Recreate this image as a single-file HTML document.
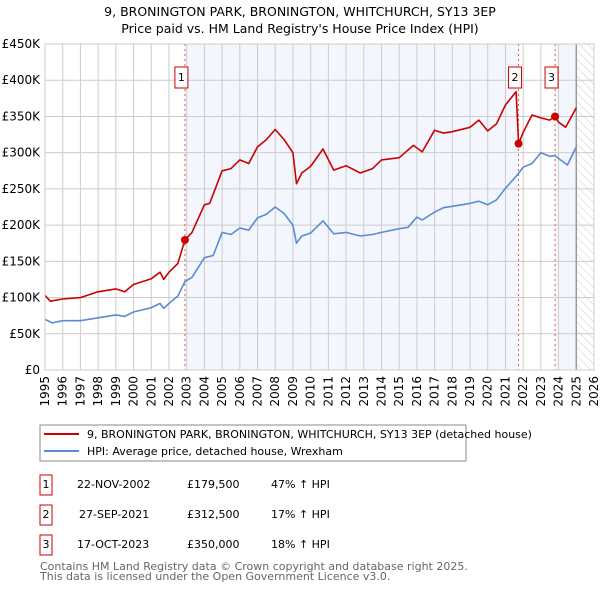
<!DOCTYPE html>
<html><head><meta charset="utf-8"><style>
body{margin:0;background:#fff;width:600px;height:590px;overflow:hidden;font-family:"DejaVu Sans","Liberation Sans",sans-serif}
svg text{font-family:"DejaVu Sans","Liberation Sans",sans-serif}
</style></head><body>
<svg id="c" width="600" height="590">
<defs><pattern id="hatch" width="6" height="6" patternUnits="userSpaceOnUse" patternTransform="rotate(-45)"><line x1="0" y1="0" x2="0" y2="6" stroke="#ccc" stroke-width="1"/></pattern></defs>
<text x="300" y="16" text-anchor="middle" font-size="12.5">9, BRONINGTON PARK, BRONINGTON, WHITCHURCH, SY13 3EP</text>
<text x="300" y="33" text-anchor="middle" font-size="12.5">Price paid vs. HM Land Registry's House Price Index (HPI)</text>
<g id="plot"></g>
<rect x="40" y="425" width="426" height="36" fill="#fff" stroke="#888"/>
<line x1="44" y1="434" x2="79" y2="434" stroke="#cc0000" stroke-width="2"/>
<text x="87" y="438" font-size="11">9, BRONINGTON PARK, BRONINGTON, WHITCHURCH, SY13 3EP (detached house)</text>
<line x1="44" y1="451" x2="79" y2="451" stroke="#5b8bd0" stroke-width="2"/>
<text x="87" y="455" font-size="11">HPI: Average price, detached house, Wrexham</text>
<g font-size="11">
<rect x="40" y="475" width="12" height="20" fill="none" stroke="#cc0000"/><text x="46" y="488" text-anchor="middle">1</text>
<text x="77" y="488">22-NOV-2002</text><text x="187" y="488">£179,500</text><text x="271" y="488">47% ↑ HPI</text>
<rect x="40" y="505" width="12" height="20" fill="none" stroke="#cc0000"/><text x="46" y="518" text-anchor="middle">2</text>
<text x="79" y="518">27-SEP-2021</text><text x="187" y="518">£312,500</text><text x="271" y="518">17% ↑ HPI</text>
<rect x="40" y="535" width="12" height="20" fill="none" stroke="#cc0000"/><text x="46" y="548" text-anchor="middle">3</text>
<text x="77" y="548">17-OCT-2023</text><text x="187" y="548">£350,000</text><text x="271" y="548">18% ↑ HPI</text>
</g>
<text x="40" y="570" font-size="11" fill="#666">Contains HM Land Registry data © Crown copyright and database right 2025.</text>
<text x="40" y="580" font-size="11" fill="#666">This data is licensed under the Open Government Licence v3.0.</text>
</svg>
<script>
const hpiYears=[1995,1995.4,1996,1997,1998,1999,1999.5,2000,2000.5,2001,2001.5,2001.7,2002,2002.5,2002.9,2003.3,2004,2004.5,2005,2005.5,2006,2006.5,2007,2007.5,2008,2008.5,2009,2009.2,2009.5,2010,2010.7,2011.3,2012,2012.8,2013.5,2014,2015,2015.5,2016,2016.3,2017,2017.5,2018,2019,2019.5,2020,2020.5,2021,2021.7,2022,2022.5,2023,2023.5,2023.8,2024,2024.5,2025];
const hpiValues=[70,65,68,68,72,76,74,80,83,86,92,85,92,102,122,128,155,158,190,187,196,193,210,215,225,216,200,175,185,189,206,188,190,185,187,190,195,197,211,207,218,224,226,230,233,228,235,251,270,280,285,300,295,296,292,283,308];
const priceYears=[1995,1995.3,1996,1997,1998,1999,1999.5,2000,2000.5,2001,2001.5,2001.7,2002,2002.5,2002.9,2003.3,2004,2004.3,2005,2005.5,2006,2006.5,2007,2007.5,2008,2008.5,2009,2009.2,2009.5,2010,2010.7,2011.3,2012,2012.8,2013.5,2014,2015,2015.8,2016.3,2017,2017.5,2018,2019,2019.5,2020,2020.5,2021,2021.6,2021.74,2022,2022.5,2023,2023.5,2023.8,2024,2024.4,2025];
const priceValues=[103,95,98,100,108,112,108,118,122,126,135,125,135,147,179.5,190,228,230,275,278,290,285,308,318,332,318,300,257,272,281,305,276,282,272,278,290,293,310,301,331,327,329,335,345,330,340,366,384,312.5,328,352,348,345,350,342,335,362];
const saleYears=[2002.9,2021.74,2023.8];
const saleValues=[179.5,312.5,350];
const saleLabels=["1","2","3"];
const yTicks=[0,50,100,150,200,250,300,350,400,450];
const yTickLabels=["£0","£50K","£100K","£150K","£200K","£250K","£300K","£350K","£400K","£450K"];
const xTicks=[];for(let y=1995;y<=2026;y++)xTicks.push(y);

const X0=45,X1=594,Y0=370,Y1=44;
const x=v=>X0+(v-1995)*(X1-X0)/31;
const y=v=>Y0-v*(Y0-Y1)/450;
const NS="http://www.w3.org/2000/svg";
const g=document.getElementById('plot');
function mk(t,a){const e=document.createElementNS(NS,t);for(const k in a)e.setAttribute(k,a[k]);g.appendChild(e);return e;}
let e;
e=mk('rect',{x:x(saleYears[0]),y:Y1,width:x(saleYears[1])-x(saleYears[0]),height:Y0-Y1,fill:'#eef3fc',opacity:0.7});


e=mk('rect',{x:x(saleYears[2]),y:Y1,width:x(2025)-x(saleYears[2]),height:Y0-Y1,fill:'#eef3fc',opacity:0.7});


e=mk('rect',{x:x(2025),y:Y1,width:X1-x(2025),height:Y0-Y1,fill:'url(#hatch)'});


xTicks.forEach((t,i)=>{
 e=mk('line',{x1:x(t),x2:x(t),y1:Y1,y2:Y0,stroke:'#ccc','stroke-width':1});
 
 
 e=mk('text',{x:0,y:0,'font-size':12,'text-anchor':'end',transform:`translate(${x(t)+4},${Y0+6}) rotate(-90)`});
 e.textContent=t;
 
 
});
yTicks.forEach((t,i)=>{
 e=mk('line',{x1:X0,x2:X1,y1:y(t),y2:y(t),stroke:'#ccc','stroke-width':1});
 
 
 e=mk('text',{x:X0-5,y:y(t)+4,'font-size':12,'text-anchor':'end'});
 e.textContent=yTickLabels[i];
 
 
});
e=mk('line',{x1:x(2025),x2:x(2025),y1:Y1,y2:Y0,stroke:'#999','stroke-width':1.5});


saleYears.forEach((s,i)=>{
 e=mk('line',{x1:x(s),x2:x(s),y1:Y1,y2:Y0,stroke:'#e55','stroke-width':1,'stroke-dasharray':'2,3'});
 
 
});
function path(xs,vs,col,name){
 e=mk('path',{d:xs.map((t,i)=>(i?'L':'M')+x(t).toFixed(1)+','+y(vs[i]).toFixed(1)).join(''),fill:'none',stroke:col,'stroke-width':1.6,'stroke-linejoin':'round'});
 
 
}
path(hpiYears,hpiValues,'#5b8bd0','hpi-line');
path(priceYears,priceValues,'#cc0000','price-line');
saleYears.forEach((s,i)=>{
 e=mk('circle',{cx:x(s),cy:y(saleValues[i]),r:4,fill:'#cc0000'});
 
 
 e=mk('rect',{x:x(s)-10,y:67,width:13,height:21,fill:'#fff',stroke:'#cc0000'});
 
 
 e=mk('text',{x:x(s)-3.5,y:81,'font-size':11,'text-anchor':'middle'});
 e.textContent=saleLabels[i];
 
 
});
e=mk('rect',{x:X0,y:Y1,width:X1-X0,height:Y0-Y1,fill:'none',stroke:'#ccc'});


</script>
</body></html>
